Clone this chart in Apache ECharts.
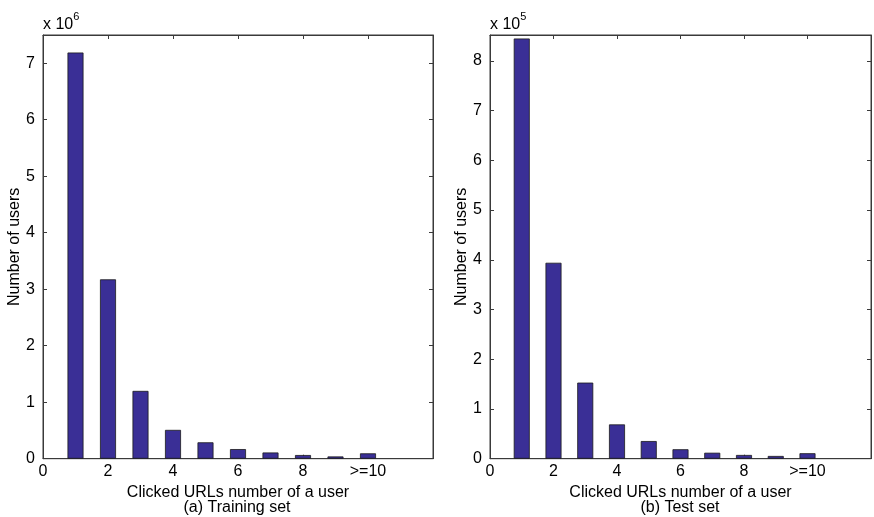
<!DOCTYPE html>
<html>
<head>
<meta charset="utf-8">
<script src="https://cdn.jsdelivr.net/npm/echarts@6/dist/echarts.min.js"></script>
<style>html,body{margin:0;padding:0;background:#fff}#c{width:874px;height:517px}</style>
</head>
<body>
<div id="c"></div>
<script>
// Categories: clicked URLs per user (10 means >=10)
const categories = [1, 2, 3, 4, 5, 6, 7, 8, 9, 10];
// Training set, number of users (x 10^6)
const trainValues = [7.19, 3.175, 1.20, 0.51, 0.29, 0.17, 0.11, 0.065, 0.04, 0.095];
// Test set, number of users (x 10^5)
const testValues = [8.45, 3.94, 1.53, 0.69, 0.355, 0.19, 0.12, 0.075, 0.055, 0.11];
const xTickLabels = { 0: '0', 2: '2', 4: '4', 6: '6', 8: '8', 10: '>=10' };

const FONT = 'Liberation Sans, Arial, sans-serif';
const AXC = '#3a3a3a';
const BAR = '#3a2f96';
const FS = 16;

const chart = echarts.init(document.getElementById('c'), null, { renderer: 'canvas' });

const grids = [
  { left: 43, top: 35, width: 390, height: 423.7, show: true, borderColor: AXC, borderWidth: 1, backgroundColor: 'transparent' },
  { left: 490, top: 35, width: 388, height: 423.7, show: true, borderColor: AXC, borderWidth: 1, backgroundColor: 'transparent' }
];
const yMax = [7.5, 8.52];

function xAxes(gi) {
  return [
    {
      type: 'value', gridIndex: gi, position: 'bottom', min: 0, max: 12, interval: 2,
      axisLine: { show: true, onZero: false, lineStyle: { color: AXC, width: 1 } },
      axisTick: { show: true, inside: true, length: 4, lineStyle: { color: AXC } },
      axisLabel: {
        color: '#000', fontFamily: FONT, fontSize: FS, margin: 5,
        formatter: v => (xTickLabels[v] !== undefined ? xTickLabels[v] : '')
      },
      splitLine: { show: false },
      name: 'Clicked URLs number of a user', nameLocation: 'middle', nameGap: 23,
      nameTextStyle: { color: '#000', fontFamily: FONT, fontSize: FS }
    },
    {
      type: 'value', gridIndex: gi, position: 'top', min: 0, max: 12, interval: 2,
      axisLine: { show: true, onZero: false, lineStyle: { color: AXC, width: 1 } },
      axisTick: { show: true, inside: true, length: 4, lineStyle: { color: AXC } },
      axisLabel: { show: false }, splitLine: { show: false }
    }
  ];
}
function yAxes(gi) {
  return [
    {
      type: 'value', gridIndex: gi, position: 'left', min: 0, max: yMax[gi], interval: 1,
      axisLine: { show: true, onZero: false, lineStyle: { color: AXC, width: 1 } },
      axisTick: { show: true, inside: true, length: 4, lineStyle: { color: AXC } },
      axisLabel: {
        color: '#000', fontFamily: FONT, fontSize: FS, margin: 8,
        formatter: v => (Number.isInteger(v) ? String(v) : '')
      },
      splitLine: { show: false },
      name: 'Number of users', nameLocation: 'middle', nameGap: 19, nameRotate: 90,
      nameTextStyle: { color: '#000', fontFamily: FONT, fontSize: FS }
    },
    {
      type: 'value', gridIndex: gi, position: 'right', min: 0, max: yMax[gi], interval: 1,
      axisLine: { show: true, onZero: false, lineStyle: { color: AXC, width: 1 } },
      axisTick: { show: true, inside: true, length: 4, lineStyle: { color: AXC } },
      axisLabel: { show: false }, splitLine: { show: false }
    }
  ];
}

function barSeries(values, gi) {
  return {
    type: 'bar',
    xAxisIndex: gi * 2, yAxisIndex: gi * 2,
    data: categories.map((c, i) => [c, values[i]]),
    barWidth: 16,
    itemStyle: { color: BAR, borderColor: '#1a1a1a', borderWidth: 0.8 },
    silent: true, animation: false
  };
}
function frameSeries(gi) {
  // empty series so the mirrored top/right axes are drawn
  return {
    type: 'line', xAxisIndex: gi * 2 + 1, yAxisIndex: gi * 2 + 1,
    data: [], silent: true, animation: false, showSymbol: false
  };
}

chart.setOption({
  backgroundColor: '#fff',
  animation: false,
  grid: grids,
  xAxis: [...xAxes(0), ...xAxes(1)],
  yAxis: [...yAxes(0), ...yAxes(1)],
  series: [barSeries(trainValues, 0), barSeries(testValues, 1), frameSeries(0), frameSeries(1)],
  graphic: [
    {
      type: 'text', left: 43, top: 11,
      style: {
        text: '{b|x 10}{s|6}',
        rich: {
          b: { fontFamily: FONT, fontSize: FS, fill: '#000', verticalAlign: 'bottom', padding: [6, 0, 0, 0] },
          s: { fontFamily: FONT, fontSize: 11, fill: '#000', verticalAlign: 'top' }
        }
      }
    },
    {
      type: 'text', left: 490, top: 11,
      style: {
        text: '{b|x 10}{s|5}',
        rich: {
          b: { fontFamily: FONT, fontSize: FS, fill: '#000', verticalAlign: 'bottom', padding: [6, 0, 0, 0] },
          s: { fontFamily: FONT, fontSize: 11, fill: '#000', verticalAlign: 'top' }
        }
      }
    },
    {
      type: 'text', x: 237, y: 508,
      style: { text: '(a) Training set', fontFamily: FONT, fontSize: FS, fill: '#000', align: 'center', verticalAlign: 'middle' }
    },
    {
      type: 'text', x: 680, y: 508,
      style: { text: '(b) Test set', fontFamily: FONT, fontSize: FS, fill: '#000', align: 'center', verticalAlign: 'middle' }
    }
  ]
});
</script>
</body>
</html>
